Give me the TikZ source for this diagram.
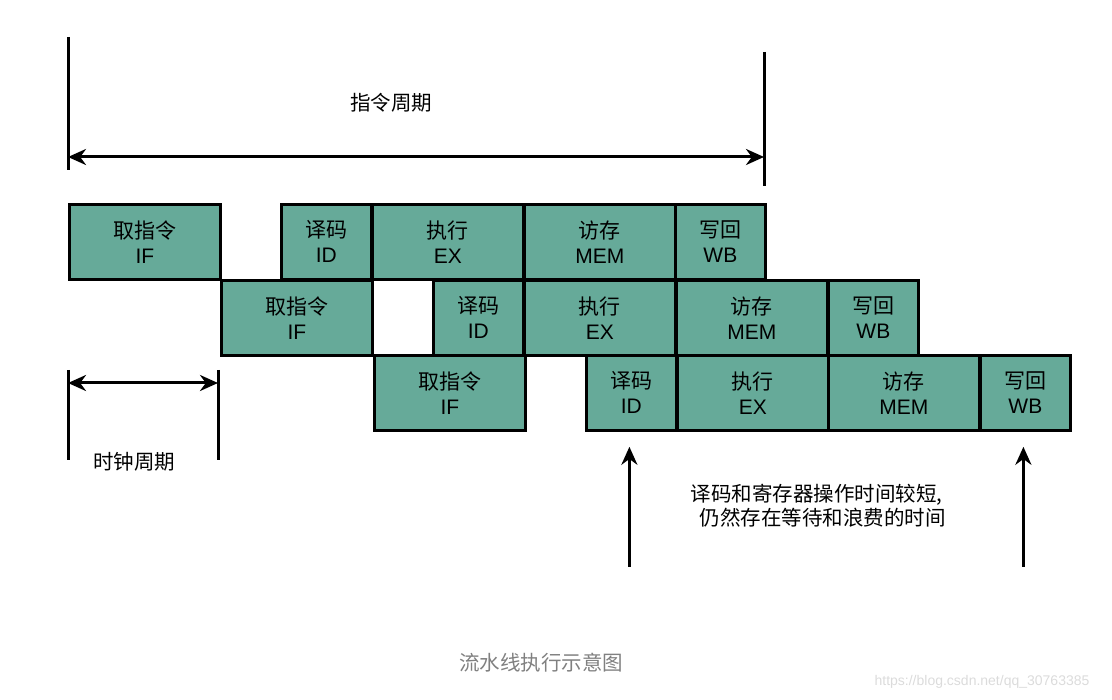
\documentclass[tikz,border=0pt]{standalone}
\usepackage{fontspec}
\setmainfont{Liberation Sans}
\newfontfamily\cjk{Noto Sans CJK SC}
\usetikzlibrary{arrows.meta}
\usetikzlibrary{positioning}
\definecolor{stagegreen}{RGB}{102,170,153}
\tikzset{stage/.style = {draw, line width=2.8pt, fill=stagegreen, anchor=north west,
                         minimum height=75pt, inner sep=0pt, align=center,
                         font=\fontsize{21}{25}\selectfont}}
\tikzset{wide/.style = {stage, minimum width=151pt}}
\tikzset{narrow/.style = {stage, minimum width=90pt}}
\tikzset{span/.style = {line width=3pt,
                        {Stealth[length=18pt,width=16pt]}-{Stealth[length=18pt,width=16pt]}}}
\tikzset{up/.style = {line width=3pt, -{Stealth[length=18pt,width=16pt]}}}
\tikzset{tick/.style = {line width=3pt}}
\tikzset{note/.style = {font=\cjk\fontsize{20.5}{24}\selectfont}}

\begin{document}
\begin{tikzpicture}[x=1pt, y=-1pt]
    \useasboundingbox (0, 0) rectangle (1112, 700);

    % instruction period
    \coordinate (ptl) at (68, 157);
    \coordinate (ptr) at (764, 157);
    \draw [tick] (68, 37) -- (68, 170);
    \draw [tick] (764, 52) -- (764, 186);
    \draw [span] (ptl) -- (ptr);
    \node [note] (period) at (391, 103) {指令周期};

    % pipeline stages
    \foreach \nm/\x/\kind/\cn/\en in {if1/68/wide/取指令/IF, id1/280/narrow/译码/ID,
        ex1/371/wide/执行/EX, mem1/523/wide/访存/MEM, wb1/674/narrow/写回/WB} {
      \node [\kind] (\nm) at (\x, 203) {{\cjk \cn}\\\en};
    }
    \foreach \nm/\x/\kind/\cn/\en in {if2/220/wide/取指令/IF, id2/432/narrow/译码/ID,
        ex2/523/wide/执行/EX, mem2/675/wide/访存/MEM, wb2/827/narrow/写回/WB} {
      \node [\kind] (\nm) at (\x, 279) {{\cjk \cn}\\\en};
    }
    \foreach \nm/\x/\kind/\cn/\en in {if3/373/wide/取指令/IF, id3/585/narrow/译码/ID,
        ex3/676/wide/执行/EX, mem3/827/wide/访存/MEM, wb3/979/narrow/写回/WB} {
      \node [\kind] (\nm) at (\x, 354) {{\cjk \cn}\\\en};
    }

    % clock period
    \coordinate (ctl) at (68, 383);
    \coordinate (ctr) at (218, 383);
    \draw [tick] (68, 370) -- (68, 460);
    \draw [tick] (218, 370) -- (218, 460);
    \draw [span] (ctl) -- (ctr);
    \node [note] (clock) at (134, 462) {时钟周期};

    % waiting
    \draw [up] ([xshift=-2pt, yshift=-135pt]id3.south) -- ([xshift=-2pt, yshift=-15pt]id3.south);
    \draw [up] ([xshift=-2pt, yshift=-135pt]wb3.south) -- ([xshift=-2pt, yshift=-15pt]wb3.south);
    \node [note, align=left] (wait) at (818, 506)
      {译码和寄存器操作时间较短,\\\hspace*{9pt}仍然存在等待和浪费的时间};

    \node [font=\cjk\fontsize{20.5}{24}\selectfont, text=black!50] (title) at (541, 663)
      {流水线执行示意图};
    \node [font=\fontsize{14}{16}\selectfont, text=black!14] (mark) at (982, 682)
      {https://blog.csdn.net/qq\_30763385};
  \end{tikzpicture}
\end{document}
